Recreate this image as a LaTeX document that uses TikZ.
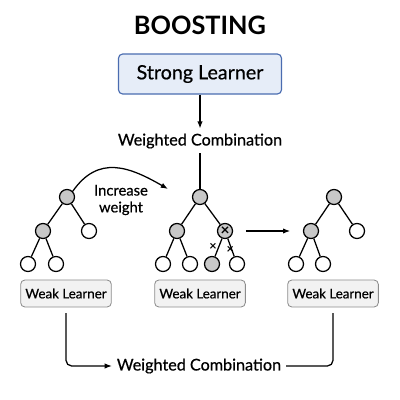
\documentclass[tikz,border=0pt]{standalone}
\usepackage{fontspec}
\setmainfont{Lato}
\newfontfamily\mediumfont{Lato}[FakeBold=0.6]
\usetikzlibrary{positioning,arrows.meta}
\definecolor{blueBox}{RGB}{230,237,248}
\definecolor{blueLine}{RGB}{74,108,176}
\definecolor{grayBox}{RGB}{242,242,242}
\definecolor{grayLine}{RGB}{140,140,140}
\definecolor{grayNode}{RGB}{200,200,200}

\begin{document}
\begin{tikzpicture}[x=0.025cm, y=-0.025cm,
        strongbox/.style={draw=blueLine, rounded corners=3pt, fill=blueBox, line width=0.8pt,
                    minimum width=4.075cm, minimum height=1cm, font=\mediumfont\fontsize{14}{16}\selectfont},
        learner/.style={draw=grayLine, rounded corners=3pt, fill=grayBox, line width=0.6pt,
                    minimum width=2.25cm, minimum height=0.675cm, font=\mediumfont\fontsize{9.5}{11}\selectfont},
        leaf/.style={circle, draw, line width=0.9pt, fill=white, minimum size=0.375cm, inner sep=0pt},
        split/.style={leaf, fill=grayNode},
        combo/.style={font=\mediumfont\fontsize{11.5}{13}\selectfont},
        crossmark/.style={font=\bfseries\fontsize{9}{9}\selectfont, inner sep=1pt},
        arrow/.style={-{Latex[length=1.8mm]}, line width=0.9pt},
        edge/.style={line width=0.9pt}
    ]
        \useasboundingbox (0,0) rectangle (400,400);
        \node[font=\fontsize{18}{22}\bfseries] (title) at (200,25) {BOOSTING};
        \node[strongbox] (strong) at (200,74) {Strong Learner};
        \node[combo] (wc1) at (200,141) {Weighted Combination};
        \draw[arrow] (strong) -- (wc1);

        % first weak learner
        \node[split] (l0) at (67,197) {};
        \node[split] (l1) at (43,231) {};
        \node[leaf] (l2) at (89,231) {};
        \node[leaf] (l11) at (28,264) {};
        \node[leaf] (l12) at (56,264) {};
        \draw[edge] (l0) -- (l1);
        \draw[edge] (l0) -- (l2);
        \draw[edge] (l1) -- (l11);
        \draw[edge] (l1) -- (l12);
        \node[learner] (wl1) at (66,293.5) {Weak Learner};

        % second weak learner
        \node[split] (m0) at (200,197) {};
        \node[split] (m1) at (177,231) {};
        \node[split, font=\bfseries\fontsize{11}{11}\selectfont] (m2) at (225,231) {×};
        \node[leaf] (m11) at (163,264) {};
        \node[leaf] (m12) at (190,264) {};
        \node[split] (m21) at (212,264) {};
        \node[leaf] (m22) at (237,264) {};
        \draw[edge] (m0) -- (m1);
        \draw[edge] (m0) -- (m2);
        \draw[edge] (m1) -- (m11);
        \draw[edge] (m1) -- (m12);
        \draw[edge] (m2) -- (m21) node[crossmark, pos=0.45, left=0pt] (xa) {×};
        \draw[edge] (m2) -- (m22) node[crossmark, pos=0.62, left=-3pt] (xb) {×};
        \node[learner] (wl2) at (200,293.5) {Weak Learner};
        \draw[edge] (wc1) -- (m0);

        % third weak learner
        \node[split] (r0) at (334,197) {};
        \node[split] (r1) at (311,231) {};
        \node[leaf] (r2) at (357,231) {};
        \node[leaf] (r11) at (296,264) {};
        \node[leaf] (r12) at (323,264) {};
        \draw[edge] (r0) -- (r1);
        \draw[edge] (r0) -- (r2);
        \draw[edge] (r1) -- (r11);
        \draw[edge] (r1) -- (r12);
        \node[learner] (wl3) at (333,293.5) {Weak Learner};

        % reweighting
        \node[align=center, font=\mediumfont\fontsize{10.5}{12}\selectfont] (inc) at (121,200) {Increase\\weight};
        \coordinate (incEnd) at (168,189);
        \draw[arrow] (l0.north east) to[out=55, in=150, looseness=1.2] (incEnd);
        \draw[arrow, shorten <=9pt, shorten >=9pt] (m2) -- (r1);

        % final combination
        \node[combo] (wc2) at (199,366) {Weighted Combination};
        \draw[arrow, rounded corners=4pt, shorten <=4pt] (wl1.south) |- (wc2.west);
        \draw[edge, rounded corners=4pt, shorten >=4pt] (wc2.east) -| (wl3.south);
    \end{tikzpicture}
\end{document}
